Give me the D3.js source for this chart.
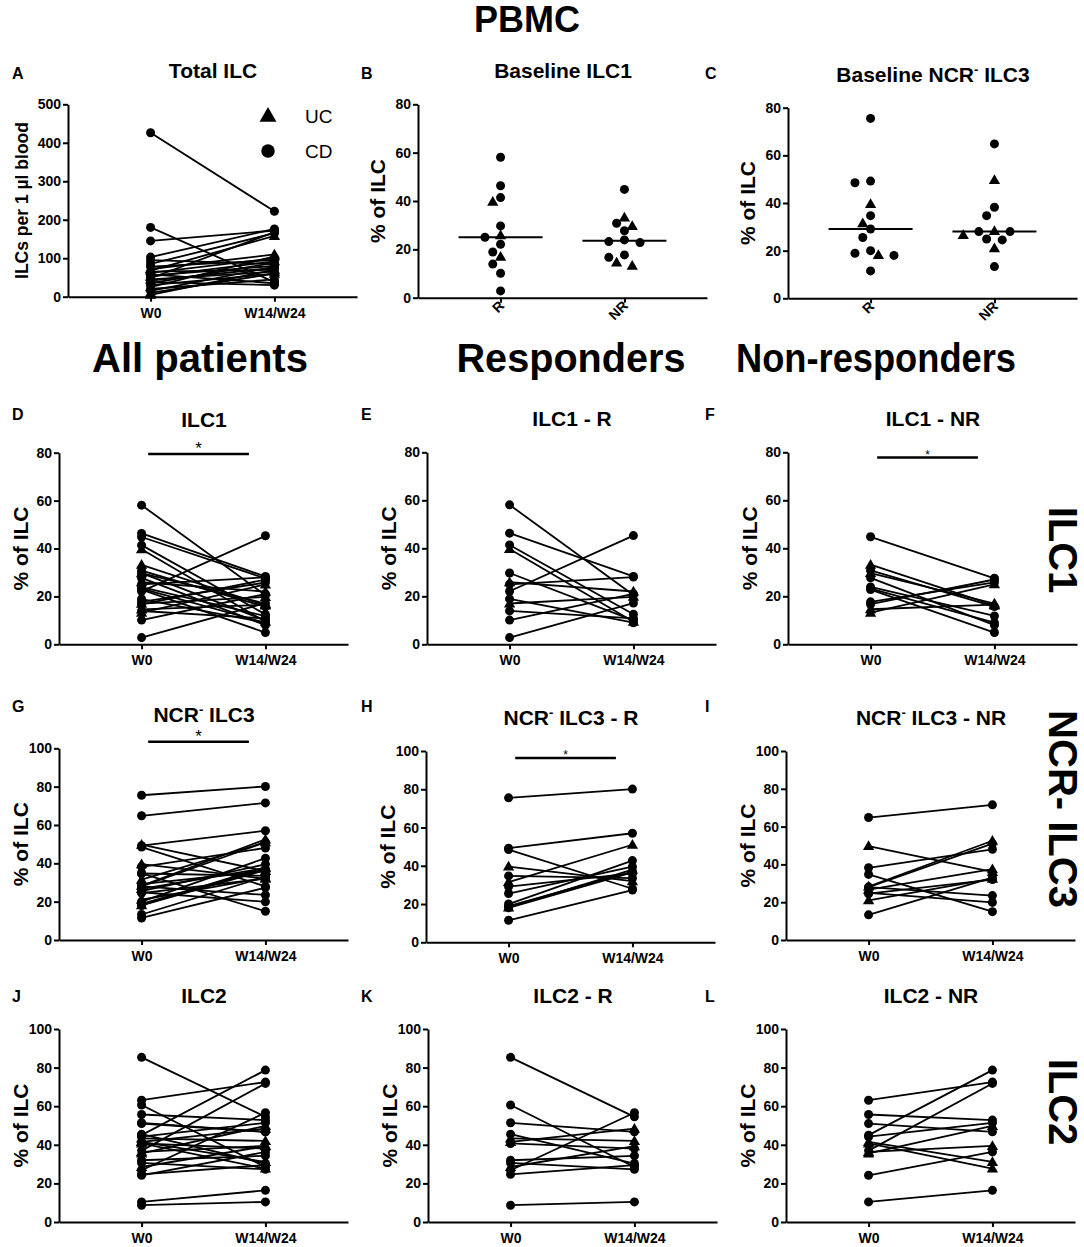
<!DOCTYPE html>
<html><head><meta charset="utf-8">
<script src="https://cdn.jsdelivr.net/npm/d3@7"></script>
<style>
body{margin:0;background:#fff}
svg{display:block}
text{font-family:"Liberation Sans",Arial,Helvetica,sans-serif;fill:#000}
</style>
</head><body>
<svg id="c" width="1084" height="1247"></svg>
<script>
// ---------------- DATA ----------------
const timepoints = ["W0", "W14/W24"];
const responseGroups = ["R", "NR"];
const diseaseTypes = ["UC", "CD"];

// patient disease type (same patient order in every R / NR array)
const typeR  = ["CD","CD","CD","UC","CD","CD","UC","CD","CD","UC","CD","CD","CD"];
const typeNR = ["CD","UC","CD","UC","CD","CD","CD","CD","CD","CD","UC","UC"];

// Total ILC per 1 µl blood (R patients then NR patients)
const totalW0  = [426,180,145,72,103,95,68,85,78,25,65,62,58, 55,52,48,45,42,38,35,30,20,15,10,5];
const totalW14 = [222,38,172,110,176,85,158,165,95,105,70,100,35, 80,92,168,65,75,30,88,60,45,78,60,70];

// ILC1 (% of ILC)
const ilc1R_w0   = [58.1,46.3,41.4,39.7,29.7,25.0,25.9,22.1,18.9,17.0,13.9,10.1,2.8];
const ilc1R_w14  = [20.5,28.3,12.5,9.4,10.0,28.0,22.0,45.3,9.0,19.8,10.8,21.0,17.2];
const ilc1NR_w0  = [44.8,33.2,30.8,29.7,27.7,23.9,23.2,22.8,17.7,16.7,13.2,14.6];
const ilc1NR_w14 = [27.5,16.2,15.7,17.0,8.0,11.8,9.0,4.9,25.8,27.0,25.0,16.5];

// NCR- ILC3 (% of ILC)
const ilc3R_w0   = [75.5,49.2,48.5,39.6,34.7,29.1,31.5,25.5,20.0,18.2,18.9,18.0,11.5];
const ilc3R_w14  = [80.1,57.0,28.0,32.0,33.5,36.0,51.0,39.5,42.7,38.0,37.0,36.5,27.3];
const ilc3NR_w0  = [64.8,49.7,38.2,28.3,34.7,28.0,28.0,24.9,24.5,13.3,26.6,21.0];
const ilc3NR_w14 = [71.5,36.0,48.0,52.5,15.0,51.0,23.5,19.9,32.0,33.0,37.5,32.5];

// ILC2 (% of ILC)
const ilc2R_w0   = [85.3,60.6,51.4,43.3,45.5,40.7,41.5,32.0,30.6,28.5,24.7,26.8,8.7];
const ilc2R_w14  = [54.5,28.5,46.7,42.0,30.3,38.0,48.4,34.3,27.3,39.3,29.5,56.6,10.4];
const ilc2NR_w0  = [63.1,41.5,55.7,35.5,51.0,45.0,44.2,37.0,10.4,24.2,36.3,40.7];
const ilc2NR_w14 = [72.5,31.1,52.8,49.8,46.7,78.7,51.4,71.8,16.4,36.3,39.4,27.7];

// tick labels
const ticks500 = [0,100,200,300,400,500];
const ticks80  = [0,20,40,60,80];
const ticks100 = [0,20,40,60,80,100];

// ---------------- LAYOUT ----------------
const svg = d3.select("#c");
const FONT = '"Liberation Sans",Arial,Helvetica,sans-serif';
const AXW = 289; // axis length in px
const R = 4.5;   // dot radius

const layout = {
  A:{x:68,  top:104.3, bottom:296.7},
  B:{x:418, top:104.3, bottom:297.7},
  C:{x:788, top:107.7, bottom:298.3},
  D:{x:59,  top:452.7, bottom:644.3},
  E:{x:427, top:452.3, bottom:644.3},
  F:{x:788, top:452.3, bottom:644.3},
  G:{x:59,  top:748.3, bottom:940},
  H:{x:426, top:751,   bottom:942.3},
  I:{x:786, top:751,   bottom:940},
  J:{x:59,  top:1029,  bottom:1222},
  K:{x:428, top:1029,  bottom:1222},
  L:{x:786, top:1029,  bottom:1222}
};
const letterX = [12, 361, 705];
const letterY = [79, 420, 712, 1002];

function makeScales(p, yMax){
  const x = d3.scaleLinear().domain([0,3.5]).range([p.x, p.x+AXW]);
  const y = d3.scaleLinear().domain([0,yMax]).range([p.bottom, p.top]);
  return {x,y};
}

function drawAxes(p, s, ticks, catLabels, rotated){
  const g = svg.append("g");
  const ya = g.append("g").attr("transform",`translate(${p.x},0)`)
    .call(d3.axisLeft(s.y).tickValues(ticks).tickSize(5).tickSizeOuter(0).tickPadding(2).tickFormat(d3.format("d")));
  const xa = g.append("g").attr("transform",`translate(0,${p.bottom})`)
    .call(d3.axisBottom(s.x).tickValues([1,2.5]).tickSize(5).tickSizeOuter(0).tickPadding(6).tickFormat((d,i)=>catLabels[i]));
  [ya,xa].forEach(a=>{
    a.attr("font-size",14);
    a.select(".domain").attr("stroke","#000").attr("stroke-width",2);
    a.selectAll(".tick line").attr("stroke","#000").attr("stroke-width",2);
    a.selectAll("text").attr("font-family",FONT).attr("font-size",14).attr("font-weight","bold").attr("fill","#000");
  });
  if(rotated){
    xa.selectAll(".tick text")
      .attr("text-anchor","end").attr("dy",null).attr("y",null)
      .attr("transform","translate(4,9) rotate(-45)")
      .attr("font-size",14);
  }
}

function title(p, parts){
  const t = svg.append("text").attr("x",p.x+145).attr("y",p.top-26)
    .attr("text-anchor","middle").attr("font-size",21).attr("font-weight","bold");
  parts.forEach(pt=>{
    if(pt.sup){
      t.append("tspan").attr("dy",-8).attr("font-size",13).text(pt.sup);
    } else {
      t.append("tspan").attr("dy",pt.after?8:0).text(pt.t);
    }
  });
}
function ylabel(p, txt, off, size){
  svg.append("text")
    .attr("transform",`translate(${p.x-off},${(p.top+p.bottom)/2}) rotate(-90)`)
    .attr("text-anchor","middle").attr("font-size",size).attr("font-weight","bold").text(txt);
}
function letter(ch, col, row){
  svg.append("text").attr("x",letterX[col]).attr("y",letterY[row])
    .attr("font-size",16).attr("font-weight","bold").text(ch);
}

function marker(g, cx, cy, type, scale){
  const k = scale || 1;
  if(type==="UC"){
    const sym = d3.symbol().type(d3.symbolTriangle).size(55*k*k);
    g.append("path").attr("d",sym()).attr("transform",`translate(${cx},${cy+0.8})`).attr("fill","#000");
  } else {
    g.append("circle").attr("cx",cx).attr("cy",cy).attr("r",R*k).attr("fill","#000");
  }
}

function paired(p, s, w0, w14, types){
  const g = svg.append("g");
  w0.forEach((v,i)=>{
    g.append("line").attr("x1",s.x(1)).attr("y1",s.y(v)).attr("x2",s.x(2.5)).attr("y2",s.y(w14[i]))
      .attr("stroke","#000").attr("stroke-width",1.8);
  });
  w0.forEach((v,i)=>marker(g, s.x(1), s.y(v), types[i]));
  w14.forEach((v,i)=>marker(g, s.x(2.5), s.y(v), types[i]));
}

function sigBar(s, level, size){
  svg.append("line").attr("x1",s.x(1.08)).attr("x2",s.x(2.3)).attr("y1",s.y(level)).attr("y2",s.y(level))
    .attr("stroke","#000").attr("stroke-width",2.5);
  svg.append("text").attr("x",(s.x(1.08)+s.x(2.3))/2).attr("y",s.y(level)+(size>12?0:1))
    .attr("text-anchor","middle").attr("font-size",size).text("*");
}

function swarm(values, cx, y, step, minDist){
  const idx = values.map((v,i)=>i).sort((a,b)=>values[b]-values[a]);
  const placed = [], pos = [];
  const order = [0,-1,1,-2,2,-3,3,-4,4];
  idx.forEach(i=>{
    const py = y(values[i]);
    for(const k of order){
      const px = cx + k*step;
      if(placed.every(q=>Math.hypot(q[0]-px,q[1]-py) >= minDist)){
        placed.push([px,py]); pos[i]=[px,py]; break;
      }
    }
  });
  return pos;
}

function scatter(p, s, groups){
  const g = svg.append("g");
  groups.forEach((grp,gi)=>{
    const cx = s.x(gi===0?1:2.5);
    const pos = swarm(grp.vals, cx, s.y, 7.8, 8.6);
    grp.vals.forEach((v,i)=>marker(g, pos[i][0], pos[i][1], grp.types[i]));
    const med = d3.median(grp.vals);
    g.append("line").attr("x1",cx-42).attr("x2",cx+42).attr("y1",s.y(med)).attr("y2",s.y(med))
      .attr("stroke","#000").attr("stroke-width",2);
  });
}

// ---------------- HEADINGS ----------------
svg.append("text").attr("x",527).attr("y",32).attr("text-anchor","middle")
  .attr("font-size",36).attr("font-weight","bold").text("PBMC");
[["All patients",200,216],["Responders",571,229],["Non-responders",876,280]].forEach(([t,x,w])=>{
  svg.append("text").attr("x",x).attr("y",372).attr("text-anchor","middle")
    .attr("font-size",40).attr("font-weight","bold")
    .attr("textLength",w).attr("lengthAdjust","spacingAndGlyphs").text(t);
});
[["ILC1",550],["NCR- ILC3",809],["ILC2",1102]].forEach(([t,y])=>{
  svg.append("text").attr("transform",`translate(1063,${y}) rotate(90)`)
    .attr("text-anchor","middle").attr("dominant-baseline","central")
    .attr("font-size",40).attr("font-weight","bold").text(t);
});

const typeAll = typeR.concat(typeNR);

// ---------------- PANEL A ----------------
{
  const p = layout.A, s = makeScales(p, 500);
  drawAxes(p, s, ticks500, timepoints, false);
  letter("A",0,0); title(p,[{t:"Total ILC"}]);
  ylabel(p, "ILCs per 1 µl blood", 40, 17.5);
  paired(p, s, totalW0, totalW14, typeAll);
  const lg = svg.append("g");
  marker(lg, 268, 116, "UC", 1.5);
  marker(lg, 268, 151, "CD", 1.5);
  lg.append("text").attr("x",305).attr("y",123).attr("font-size",19).text(diseaseTypes[0]);
  lg.append("text").attr("x",305).attr("y",158).attr("font-size",19).text(diseaseTypes[1]);
}
// ---------------- PANEL B ----------------
{
  const p = layout.B, s = makeScales(p, 80);
  drawAxes(p, s, ticks80, responseGroups, true);
  letter("B",1,0); title(p,[{t:"Baseline ILC1"}]);
  ylabel(p, "% of ILC", 33, 21);
  scatter(p, s, [{vals:ilc1R_w0, types:typeR},{vals:ilc1NR_w0, types:typeNR}]);
}
// ---------------- PANEL C ----------------
{
  const p = layout.C, s = makeScales(p, 80);
  drawAxes(p, s, ticks80, responseGroups, true);
  letter("C",2,0); title(p,[{t:"Baseline NCR"},{sup:"-"},{t:" ILC3",after:true}]);
  ylabel(p, "% of ILC", 33, 21);
  scatter(p, s, [{vals:ilc3R_w0, types:typeR},{vals:ilc3NR_w0, types:typeNR}]);
}
// ---------------- ROW 2 : ILC1 ----------------
{
  const p = layout.D, s = makeScales(p, 80);
  drawAxes(p, s, ticks80, timepoints, false);
  letter("D",0,1); title(p,[{t:"ILC1"}]); ylabel(p,"% of ILC",31,21);
  paired(p, s, ilc1R_w0.concat(ilc1NR_w0), ilc1R_w14.concat(ilc1NR_w14), typeAll);
  sigBar(s, 79.5, 17);
}
{
  const p = layout.E, s = makeScales(p, 80);
  drawAxes(p, s, ticks80, timepoints, false);
  letter("E",1,1); title(p,[{t:"ILC1 - R"}]); ylabel(p,"% of ILC",31,21);
  paired(p, s, ilc1R_w0, ilc1R_w14, typeR);
}
{
  const p = layout.F, s = makeScales(p, 80);
  drawAxes(p, s, ticks80, timepoints, false);
  letter("F",2,1); title(p,[{t:"ILC1 - NR"}]); ylabel(p,"% of ILC",31,21);
  paired(p, s, ilc1NR_w0, ilc1NR_w14, typeNR);
  sigBar(s, 77.8, 12);
}
// ---------------- ROW 3 : NCR- ILC3 ----------------
{
  const p = layout.G, s = makeScales(p, 100);
  drawAxes(p, s, ticks100, timepoints, false);
  letter("G",0,2); title(p,[{t:"NCR"},{sup:"-"},{t:" ILC3",after:true}]); ylabel(p,"% of ILC",31,21);
  paired(p, s, ilc3R_w0.concat(ilc3NR_w0), ilc3R_w14.concat(ilc3NR_w14), typeAll);
  sigBar(s, 103.4, 17);
}
{
  const p = layout.H, s = makeScales(p, 100);
  drawAxes(p, s, ticks100, timepoints, false);
  letter("H",1,2); title(p,[{t:"NCR"},{sup:"-"},{t:" ILC3 - R",after:true}]); ylabel(p,"% of ILC",31,21);
  paired(p, s, ilc3R_w0, ilc3R_w14, typeR);
  sigBar(s, 96.3, 12);
}
{
  const p = layout.I, s = makeScales(p, 100);
  drawAxes(p, s, ticks100, timepoints, false);
  letter("I",2,2); title(p,[{t:"NCR"},{sup:"-"},{t:" ILC3 - NR",after:true}]); ylabel(p,"% of ILC",31,21);
  paired(p, s, ilc3NR_w0, ilc3NR_w14, typeNR);
}
// ---------------- ROW 4 : ILC2 ----------------
{
  const p = layout.J, s = makeScales(p, 100);
  drawAxes(p, s, ticks100, timepoints, false);
  letter("J",0,3); title(p,[{t:"ILC2"}]); ylabel(p,"% of ILC",31,21);
  paired(p, s, ilc2R_w0.concat(ilc2NR_w0), ilc2R_w14.concat(ilc2NR_w14), typeAll);
}
{
  const p = layout.K, s = makeScales(p, 100);
  drawAxes(p, s, ticks100, timepoints, false);
  letter("K",1,3); title(p,[{t:"ILC2 - R"}]); ylabel(p,"% of ILC",31,21);
  paired(p, s, ilc2R_w0, ilc2R_w14, typeR);
}
{
  const p = layout.L, s = makeScales(p, 100);
  drawAxes(p, s, ticks100, timepoints, false);
  letter("L",2,3); title(p,[{t:"ILC2 - NR"}]); ylabel(p,"% of ILC",31,21);
  paired(p, s, ilc2NR_w0, ilc2NR_w14, typeNR);
}
</script>
</body></html>
